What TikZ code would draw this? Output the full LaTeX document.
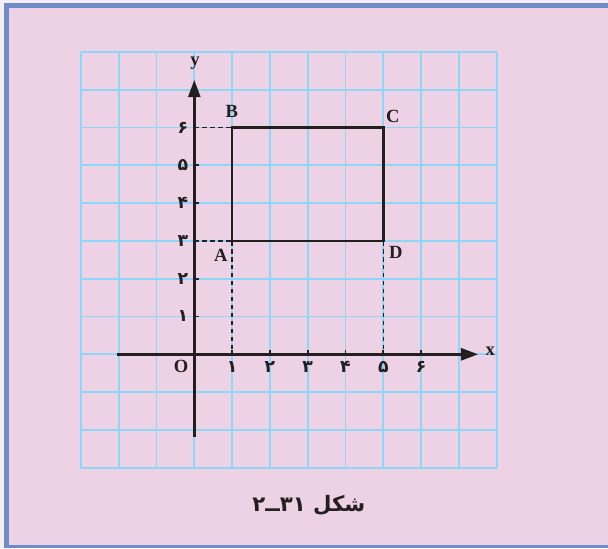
\documentclass[tikz,border=0pt]{standalone}
\usepackage{fontspec}
\setmainfont{Liberation Serif}
\newfontfamily\farsifont[Script=Arabic]{DejaVu Sans}
\TeXXeTstate=1
\usetikzlibrary{arrows.meta}

\definecolor{pagepink}{RGB}{236,210,228}
\definecolor{frameblue}{RGB}{110,140,200}
\definecolor{gridblue}{RGB}{140,215,245}
\definecolor{inkblack}{RGB}{35,31,32}

\tikzset{
  axisline/.style={line width=2.2pt, color=inkblack, -{Triangle[length=13pt,width=9pt]}},
  ptlabel/.style={font=\fontsize{14}{14}\selectfont\bfseries, text=inkblack, inner sep=1pt},
  numlabel/.style={font=\farsifont\bfseries\fontsize{13}{13}\selectfont, text=inkblack, inner sep=1pt},
  guide/.style={line width=1.1pt, color=inkblack, dash pattern=on 3.5pt off 2.5pt},
  tick/.style={line width=1.3pt, color=inkblack}
}

\begin{document}
\begin{tikzpicture}
\useasboundingbox (-5.140,-5.124) rectangle (10.944,9.373);
% page and frame
\fill[pagepink!40!white] (-5.140,-5.124) rectangle (10.944,9.373);
\fill[frameblue] (-5.034,-5.124) rectangle (10.944,9.286);
\fill[pagepink] (-4.902,-5.045) rectangle (10.944,9.153);
% grid
\draw[gridblue, line width=1.3pt] (-3,-3) grid (8,8);
% axes
\draw[axisline] (-2.05,0) -- (7.51,0);
\draw[axisline] (0,-2.18) -- (0,7.26);
\node[ptlabel] (xlab) at (7.83,0.07) {x};
\node[ptlabel] (ylab) at (0.02,7.7) {y};
\node[ptlabel] (orig) at (-0.35,-0.33) {O};
% ticks on x
\draw[tick] (1,0) -- (1,0.12);
\draw[tick] (2,0) -- (2,0.12);
\draw[tick] (3,0) -- (3,0.12);
\draw[tick] (4,0) -- (4,0.12);
\draw[tick] (5,0) -- (5,0.12);
\draw[tick] (6,0) -- (6,0.12);
% ticks on y
\draw[tick] (0,1) -- (0.12,1);
\draw[tick] (0,2) -- (0.12,2);
\draw[tick] (0,3) -- (0.12,3);
\draw[tick] (0,4) -- (0.12,4);
\draw[tick] (0,5) -- (0.12,5);
\draw[tick] (0,6) -- (0.12,6);
% numbers
\node[numlabel] (x1) at (1,-0.34) {۱};
\node[numlabel] (x2) at (2,-0.34) {۲};
\node[numlabel] (x3) at (3,-0.34) {۳};
\node[numlabel] (x4) at (4,-0.34) {۴};
\node[numlabel] (x5) at (5,-0.34) {۵};
\node[numlabel] (x6) at (6,-0.34) {۶};
\node[numlabel, anchor=east] (y1) at (-0.12,1) {۱};
\node[numlabel, anchor=east] (y2) at (-0.12,2) {۲};
\node[numlabel, anchor=east] (y3) at (-0.12,3) {۳};
\node[numlabel, anchor=east] (y4) at (-0.12,4) {۴};
\node[numlabel, anchor=east] (y5) at (-0.12,5) {۵};
\node[numlabel, anchor=east] (y6) at (-0.12,6) {۶};
% rectangle ABCD
\coordinate (pA) at (1,3);
\coordinate (pB) at (1,6);
\coordinate (pC) at (5,6);
\coordinate (pD) at (5,3);
\draw[guide] (0,6) -- (pB);
\draw[guide] (0,3) -- (pA);
\draw[guide] (pA) -- (1,0);
\draw[guide] (pD) -- (5,0);
\draw[line width=1.8pt, color=inkblack] (pA) -- (pB) -- (pC) -- (pD) -- cycle;
\node[ptlabel] (lA) at (0.70,2.63) {A};
\node[ptlabel] (lB) at (0.99,6.42) {B};
\node[ptlabel] (lC) at (5.25,6.30) {C};
\node[ptlabel] (lD) at (5.33,2.69) {D};
% caption
\node[font=\farsifont\bfseries\fontsize{16}{16}\selectfont, text=inkblack] (cap) at (3.03,-3.99) {\beginR شکل \beginL۳۱\endL{}ــ۲\endR};
\end{tikzpicture}
\end{document}
